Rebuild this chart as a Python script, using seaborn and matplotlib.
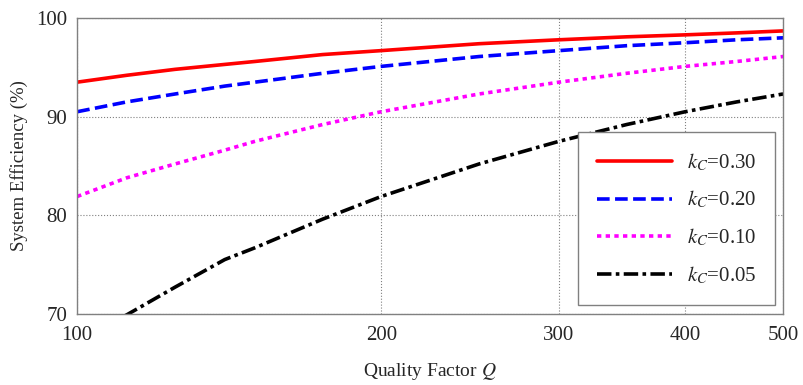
import numpy as np
import pandas as pd
import matplotlib
matplotlib.use("Agg")
import matplotlib.pyplot as plt
import seaborn as sns

# quality factor Q and read-off efficiencies (%)
q = [100, 112, 125, 140, 150, 175, 200, 250, 300, 350, 400, 450, 500]
eff_030 = [93.5, 94.2, 94.8, 95.3, 95.6, 96.3, 96.7, 97.4, 97.8, 98.1, 98.3, 98.5, 98.7]
eff_020 = [90.5, 91.5, 92.3, 93.1, 93.5, 94.4, 95.1, 96.1, 96.7, 97.2, 97.5, 97.8, 98.0]
eff_010 = [81.9, 83.8, 85.2, 86.6, 87.5, 89.2, 90.5, 92.3, 93.5, 94.4, 95.1, 95.6, 96.1]
eff_005 = [67.2, 69.9, 72.7, 75.5, 76.7, 79.6, 81.9, 85.2, 87.5, 89.2, 90.5, 91.5, 92.3]

labels = ["$k_C$=0.30", "$k_C$=0.20", "$k_C$=0.10", "$k_C$=0.05"]
series = [eff_030, eff_020, eff_010, eff_005]
colors = ["#ff0000", "#0000ff", "#ff00ff", "#000000"]
styles = ["-", (0, (3.5, 1.5)), (0, (1.2, 1.2)), (0, (4.0, 1.2, 1.0, 1.2))]

df = pd.DataFrame({
    "Q": np.tile(q, len(labels)),
    "eff": np.concatenate(series),
    "k": np.repeat(labels, len(q)),
})

sns.set_style("white")
plt.rcParams["font.family"] = ["Liberation Serif", "DejaVu Serif"]
plt.rcParams["mathtext.fontset"] = "stix"

fig, ax = plt.subplots(figsize=(8.04, 3.85), dpi=100)
fig.subplots_adjust(left=0.096, right=0.974, top=0.953, bottom=0.185)

for lab, col, ls in zip(labels, colors, styles):
    sub = df[df["k"] == lab]
    sns.lineplot(data=sub, x="Q", y="eff", ax=ax, color=col, linewidth=2.6,
                 linestyle=ls, label=lab)

ax.set_xscale("log")
ax.set_xlim(100, 500)
ax.set_ylim(70, 100)
ax.set_xticks([100, 200, 300, 400, 500])
ax.set_xticklabels(["100", "200", "300", "400", "500"])
ax.minorticks_off()
ax.set_yticks([70, 80, 90, 100])
ax.tick_params(labelsize=15, length=0)
ax.tick_params(axis="x", pad=9)
ax.tick_params(axis="y", pad=7)
ax.grid(True, linestyle=":", color="#808080", linewidth=0.8)

for s in ax.spines.values():
    s.set_color("#808080")
    s.set_linewidth(1.0)

ax.set_xlabel("Quality Factor $Q$", fontsize=14, labelpad=11)
ax.set_ylabel("System Efficiency (%)", fontsize=13.5, labelpad=6)

leg = ax.legend(loc="lower right", fontsize=15, handlelength=3.6, labelspacing=0.78,
                borderpad=0.9, handletextpad=0.7, fancybox=False, framealpha=1,
                edgecolor="#808080", borderaxespad=0.4)
leg.get_frame().set_linewidth(1.0)

fig.savefig("out.png", dpi=100)
